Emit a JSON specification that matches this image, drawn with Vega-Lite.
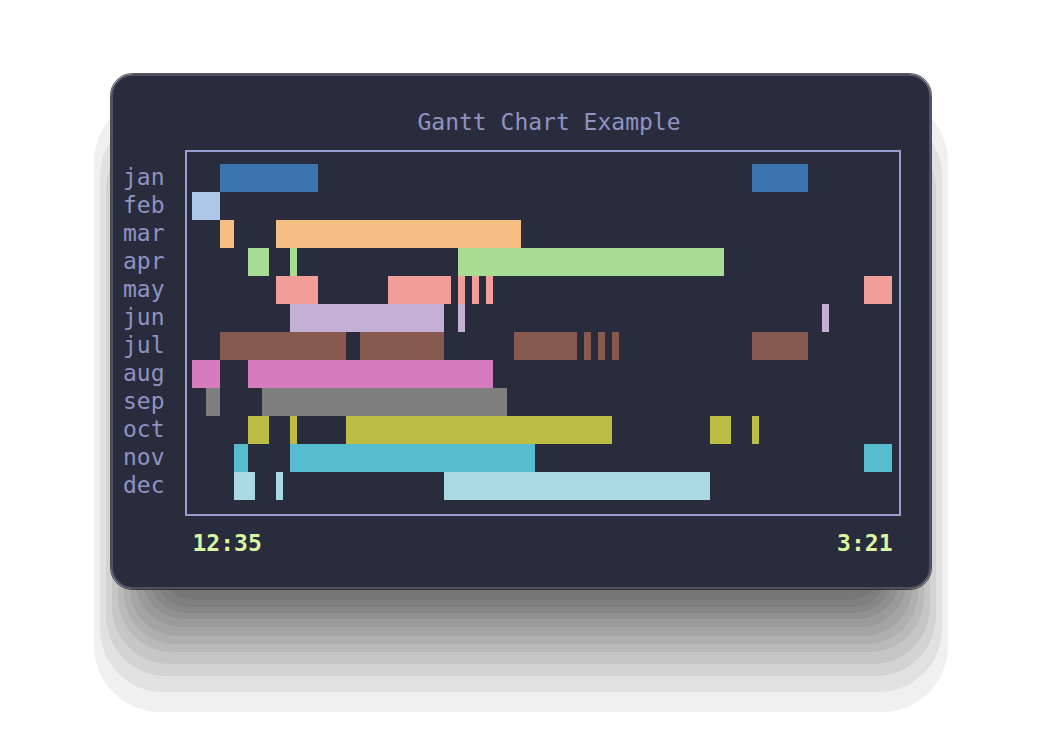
{
  "$schema": "https://vega.github.io/schema/vega-lite/v6.json",
  "width": 714,
  "height": 364,
  "autosize": {"type": "none"},
  "padding": {"left": 186, "top": 151, "right": 142, "bottom": 221},
  "background": "#ffffff",
  "title": {
    "text": "Gantt Chart Example",
    "font": "DejaVu Sans Mono",
    "fontSize": 23,
    "fontWeight": "normal",
    "color": "#8f92c2",
    "anchor": "middle",
    "frame": "group",
    "dx": 6,
    "offset": -80,
    "baseline": "alphabetic",
    "zindex": 1
  },
  "config": {"view": {"stroke": null}, "font": "DejaVu Sans Mono"},
  "resolve": {"scale": {"y": "independent"}},
  "layer": [
    {
      "data": {"values": [{}]},
      "layer": [
        {"mark": {"type": "rect", "fill": "#000000", "opacity": 0.06, "cornerRadius": 33},
         "encoding": {"x": {"datum": -4.571429}, "x2": {"datum": 98.571429},
                      "y": {"datum": 4.25, "scale": {"domain": [-0.464286, 12.535714], "reverse": true, "zero": false, "nice": false}, "axis": null},
                      "y2": {"datum": 15.571429}}},
        {"mark": {"type": "rect", "fill": "#000000", "opacity": 0.06, "cornerRadius": 36},
         "encoding": {"x": {"datum": -5.428571}, "x2": {"datum": 99.428571},
                      "y": {"datum": 3.642857, "axis": null}, "y2": {"datum": 15.821429}}},
        {"mark": {"type": "rect", "fill": "#000000", "opacity": 0.06, "cornerRadius": 39},
         "encoding": {"x": {"datum": -6.285714}, "x2": {"datum": 100.285714},
                      "y": {"datum": 3.035714, "axis": null}, "y2": {"datum": 16.035714}}},
        {"mark": {"type": "rect", "fill": "#000000", "opacity": 0.06, "cornerRadius": 42},
         "encoding": {"x": {"datum": -7.142857}, "x2": {"datum": 101.142857},
                      "y": {"datum": 2.428571, "axis": null}, "y2": {"datum": 16.25}}},
        {"mark": {"type": "rect", "fill": "#000000", "opacity": 0.06, "cornerRadius": 45},
         "encoding": {"x": {"datum": -8.0}, "x2": {"datum": 102.0},
                      "y": {"datum": 1.821429, "axis": null}, "y2": {"datum": 16.535714}}},
        {"mark": {"type": "rect", "fill": "#000000", "opacity": 0.06, "cornerRadius": 48},
         "encoding": {"x": {"datum": -8.857143}, "x2": {"datum": 102.857143},
                      "y": {"datum": 1.214286, "axis": null}, "y2": {"datum": 16.857143}}},
        {"mark": {"type": "rect", "fill": "#000000", "opacity": 0.06, "cornerRadius": 51},
         "encoding": {"x": {"datum": -9.714286}, "x2": {"datum": 103.714286},
                      "y": {"datum": 0.607143, "axis": null}, "y2": {"datum": 17.142857}}},
        {"mark": {"type": "rect", "fill": "#000000", "opacity": 0.06, "cornerRadius": 54},
         "encoding": {"x": {"datum": -10.571429}, "x2": {"datum": 104.571429},
                      "y": {"datum": 0.0, "axis": null}, "y2": {"datum": 17.428571}}},
        {"mark": {"type": "rect", "fill": "#000000", "opacity": 0.06, "cornerRadius": 57},
         "encoding": {"x": {"datum": -11.428571}, "x2": {"datum": 105.428571},
                      "y": {"datum": -0.607143, "axis": null}, "y2": {"datum": 17.857143}}},
        {"mark": {"type": "rect", "fill": "#000000", "opacity": 0.06, "cornerRadius": 60},
         "encoding": {"x": {"datum": -12.285714}, "x2": {"datum": 106.285714},
                      "y": {"datum": -1.214286, "axis": null}, "y2": {"datum": 18.285714}}},
        {"mark": {"type": "rect", "fill": "#000000", "opacity": 0.06, "cornerRadius": 63},
         "encoding": {"x": {"datum": -13.142857}, "x2": {"datum": 107.142857},
                      "y": {"datum": -1.821429, "axis": null}, "y2": {"datum": 18.857143}}},
        {"mark": {"type": "rect", "fill": "#000000", "opacity": 0.06, "cornerRadius": 66},
         "encoding": {"x": {"datum": -14.0}, "x2": {"datum": 108.0},
                      "y": {"datum": -2.428571, "axis": null}, "y2": {"datum": 19.571429}}},
        {"mark": {"type": "rect", "fill": null, "stroke": "#111111", "strokeOpacity": 0.7, "strokeWidth": 1, "cornerRadius": 22},
         "encoding": {"x": {"datum": -11.642857}, "x2": {"datum": 105.642857},
                      "y": {"datum": -3.232143, "axis": null}, "y2": {"datum": 15.196429}}},
        {"mark": {"type": "rect", "fill": "#292c3c", "stroke": "#4d5061", "strokeWidth": 2, "cornerRadius": 21},
         "encoding": {"x": {"datum": -11.428571}, "x2": {"datum": 105.428571},
                      "y": {"datum": -3.178571, "axis": null}, "y2": {"datum": 15.142857}}},
        {"mark": {"type": "rect", "fill": null, "stroke": "#9a9dcf", "strokeWidth": 2},
         "encoding": {"x": {"datum": -0.857143}, "x2": {"datum": 101.142857},
                      "y": {"datum": -0.464286, "axis": null}, "y2": {"datum": 12.535714}}}
      ]
    },
    {
      "data": {
        "values": [
          {"month": "jan", "start": 4, "end": 18},
          {"month": "jan", "start": 80, "end": 88},
          {"month": "feb", "start": 0, "end": 4},
          {"month": "mar", "start": 4, "end": 6},
          {"month": "mar", "start": 12, "end": 47},
          {"month": "apr", "start": 8, "end": 11},
          {"month": "apr", "start": 14, "end": 15},
          {"month": "apr", "start": 38, "end": 76},
          {"month": "may", "start": 12, "end": 18},
          {"month": "may", "start": 28, "end": 37},
          {"month": "may", "start": 38, "end": 39},
          {"month": "may", "start": 40, "end": 41},
          {"month": "may", "start": 42, "end": 43},
          {"month": "may", "start": 96, "end": 100},
          {"month": "jun", "start": 14, "end": 36},
          {"month": "jun", "start": 38, "end": 39},
          {"month": "jun", "start": 90, "end": 91},
          {"month": "jul", "start": 4, "end": 22},
          {"month": "jul", "start": 24, "end": 36},
          {"month": "jul", "start": 46, "end": 55},
          {"month": "jul", "start": 56, "end": 57},
          {"month": "jul", "start": 58, "end": 59},
          {"month": "jul", "start": 60, "end": 61},
          {"month": "jul", "start": 80, "end": 88},
          {"month": "aug", "start": 0, "end": 4},
          {"month": "aug", "start": 8, "end": 43},
          {"month": "sep", "start": 2, "end": 4},
          {"month": "sep", "start": 10, "end": 45},
          {"month": "oct", "start": 8, "end": 11},
          {"month": "oct", "start": 14, "end": 15},
          {"month": "oct", "start": 22, "end": 60},
          {"month": "oct", "start": 74, "end": 77},
          {"month": "oct", "start": 80, "end": 81},
          {"month": "nov", "start": 6, "end": 8},
          {"month": "nov", "start": 14, "end": 49},
          {"month": "nov", "start": 96, "end": 100},
          {"month": "dec", "start": 6, "end": 9},
          {"month": "dec", "start": 12, "end": 13},
          {"month": "dec", "start": 36, "end": 74}
        ]
      },
      "mark": {"type": "bar"},
      "encoding": {
        "y": {
          "field": "month",
          "type": "nominal",
          "sort": ["jan", "feb", "mar", "apr", "may", "jun", "jul", "aug", "sep", "oct", "nov", "dec"],
          "scale": {"paddingInner": 0, "paddingOuter": 0.5, "align": 0.464286},
          "axis": {
            "title": null, "domain": false, "ticks": false, "tickSize": 0, "grid": false,
            "labelPadding": 22, "labelFont": "DejaVu Sans Mono", "labelFontSize": 23,
            "labelColor": "#8f92c2", "zindex": 1
          }
        },
        "x": {
          "field": "start",
          "type": "quantitative",
          "title": null,
          "scale": {"domain": [-0.857143, 101.142857], "nice": false, "zero": false},
          "axis": {
            "title": null, "values": [0, 100],
            "labelExpr": "datum.value == 0 ? '12:35' : '3:21'",
            "labelAlign": {"condition": {"test": "datum.value == 0", "value": "left"}, "value": "right"},
            "labelFlush": false, "labelOverlap": false,
            "domain": false, "ticks": false, "tickSize": 0, "grid": false,
            "labelPadding": 17, "labelBaseline": "top",
            "labelFont": "DejaVu Sans Mono", "labelFontSize": 23, "labelFontWeight": "bold",
            "labelColor": "#dcf5a0", "zindex": 1
          }
        },
        "x2": {"field": "end"},
        "color": {
          "field": "month",
          "type": "nominal",
          "scale": {
            "domain": ["jan", "feb", "mar", "apr", "may", "jun", "jul", "aug", "sep", "oct", "nov", "dec"],
            "range": ["#3b75af", "#aec7e8", "#f5be82", "#a8dd93", "#f19d98", "#c5b0d5", "#875a50", "#d67bbd", "#7f7f7f", "#bcbd45", "#57bccd", "#aad9e3"]
          },
          "legend": null
        }
      }
    }
  ]
}
